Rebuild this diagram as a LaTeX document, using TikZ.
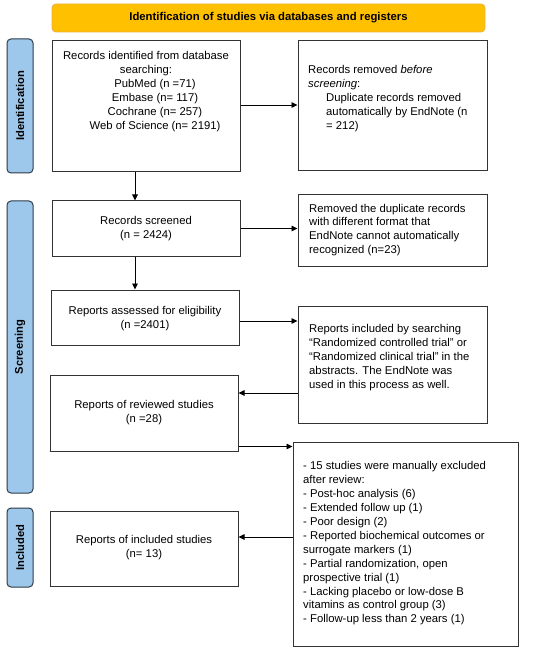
\documentclass[tikz,border=0pt]{standalone}
\usepackage{fontspec}
\setmainfont{Liberation Sans}
\usetikzlibrary{arrows.meta}
\definecolor{bannerfill}{HTML}{FFC000}
\definecolor{bannerline}{HTML}{EFB040}
\definecolor{sidefill}{HTML}{9DC8EB}
\definecolor{sideline}{HTML}{2E3A46}
\definecolor{boxline}{HTML}{333333}
\tikzset{
  box/.style={draw=boxline, line width=1pt, fill=white, inner sep=0pt},
  txt/.style={inner sep=0pt, font=\fontsize{11.3}{13.9}\selectfont},
  sidebar/.style={draw=sideline, line width=1pt, fill=sidefill, rounded corners=4pt, inner sep=0pt},
  sidelabel/.style={rotate=90, inner sep=0pt, font=\fontsize{11.2}{12}\selectfont\bfseries},
  arr/.style={-{Triangle[length=6pt,width=5.5pt]}, line width=0.9pt, draw=black},
}
\begin{document}
\begin{tikzpicture}[x=1pt,y=-1pt]
\useasboundingbox (0,0) rectangle (550,652);
% banner
\node[draw=bannerline, line width=0.9pt, fill=bannerfill, rounded corners=4pt,
      minimum width=433pt, minimum height=28pt, inner sep=0pt,
      font=\fontsize{11.3}{12}\selectfont\bfseries] (banner) at (268.5,18) {Identification of studies via databases and registers};
% sidebars
\node[sidebar, minimum width=26pt, minimum height=134pt] (sid) at (20,106) {};
\node[sidelabel] (sidl) at (sid.center) {Identification};
\node[sidebar, minimum width=26pt, minimum height=292pt] (sscr) at (20,347) {};
\node[sidelabel] (sscrl) at (sscr.center) {Screening};
\node[sidebar, minimum width=26pt, minimum height=79pt] (sinc) at (20,547.5) {};
\node[sidelabel] (sincl) at (sinc.center) {Included};
% boxes
\node[box, minimum width=188pt, minimum height=131pt] (b1) at (146,106.5) {};
\node[txt, align=center] (t1) at (146,91.5) {Records identified from database\\searching:\\\hspace*{18pt}PubMed (n =71)\\\hspace*{18pt}Embase (n= 117)\\\hspace*{18pt}Cochrane (n= 257)\\\hspace*{18pt}Web of Science (n= 2191)};
\node[box, minimum width=189pt, minimum height=130pt] (b2) at (392.5,106) {};
\node[txt, align=left, anchor=west] (t2) at (308,98.5) {Records removed \textit{before}\\\textit{screening}:\\\hspace*{18pt}Duplicate records removed\\\hspace*{18pt}automatically by EndNote (n\\\hspace*{18pt}= 212)};
\node[box, minimum width=188pt, minimum height=55pt] (b3) at (146,228.5) {};
\node[txt, align=center] (t3) at (146,229) {Records screened\\(n = 2424)};
\node[box, minimum width=189pt, minimum height=71pt] (b4) at (392.5,230.5) {};
\node[txt, align=left, anchor=west] (t4) at (309,230) {Removed the duplicate records\\with different format that\\EndNote cannot automatically\\recognized (n=23)};
\node[box, minimum width=188pt, minimum height=55pt] (b5) at (145,317.5) {};
\node[txt, align=center] (t5) at (145,318.5) {Reports assessed for eligibility\\(n =2401)};
\node[box, minimum width=189pt, minimum height=117pt] (b6) at (392.5,364.5) {};
\node[txt, align=left, anchor=west] (t6) at (309,357.5) {Reports included by searching\\“Randomized controlled trial” or\\“Randomized clinical trial” in the\\abstracts. The EndNote was\\used in this process as well.};
\node[box, minimum width=188pt, minimum height=76pt] (b7) at (144,413) {};
\node[txt, align=center] (t7) at (144,413) {Reports of reviewed studies\\(n =28)};
\node[box, minimum width=225pt, minimum height=204pt] (b8) at (405.5,544) {};
\node[txt, align=left, anchor=west] (t8) at (303,543.5) {- 15 studies were manually excluded\\after review:\\- Post-hoc analysis (6)\\- Extended follow up (1)\\- Poor design (2)\\- Reported biochemical outcomes or\\surrogate markers (1)\\- Partial randomization, open\\prospective trial (1)\\- Lacking placebo or low-dose B\\vitamins as control group (3)\\- Follow-up less than 2 years (1)};
\node[box, minimum width=188pt, minimum height=75pt] (b9) at (144,548.5) {};
\node[txt, align=center] (t9) at (144,547.5) {Reports of included studies\\(n= 13)};
% connectors
\draw[arr] ([yshift=1.5pt]b1.east) -- ([yshift=1.5pt]b1.east -| b2.west);
\draw[arr] ([xshift=-11pt]b1.south) -- ([xshift=-11pt]b1.south |- b3.north);
\draw[arr] (b3.east) -- (b3.east -| b4.west);
\draw[arr] ([xshift=-11pt]b3.south) -- ([xshift=-11pt]b3.south |- b5.north);
\draw[arr] ([yshift=-3.5pt]b5.east) -- ([yshift=-3.5pt]b5.east -| b6.west);
\draw[arr] ([yshift=-28.5pt]b6.west) -- ([yshift=-28.5pt]b6.west -| b7.east);
\draw[arr] ([yshift=5pt]b7.south east) -- ([yshift=5pt]b7.south east -| b8.west);
\draw[arr] ([yshift=7pt]b8.west) -- ([yshift=7pt]b8.west -| b9.east);
\end{tikzpicture}
\end{document}
